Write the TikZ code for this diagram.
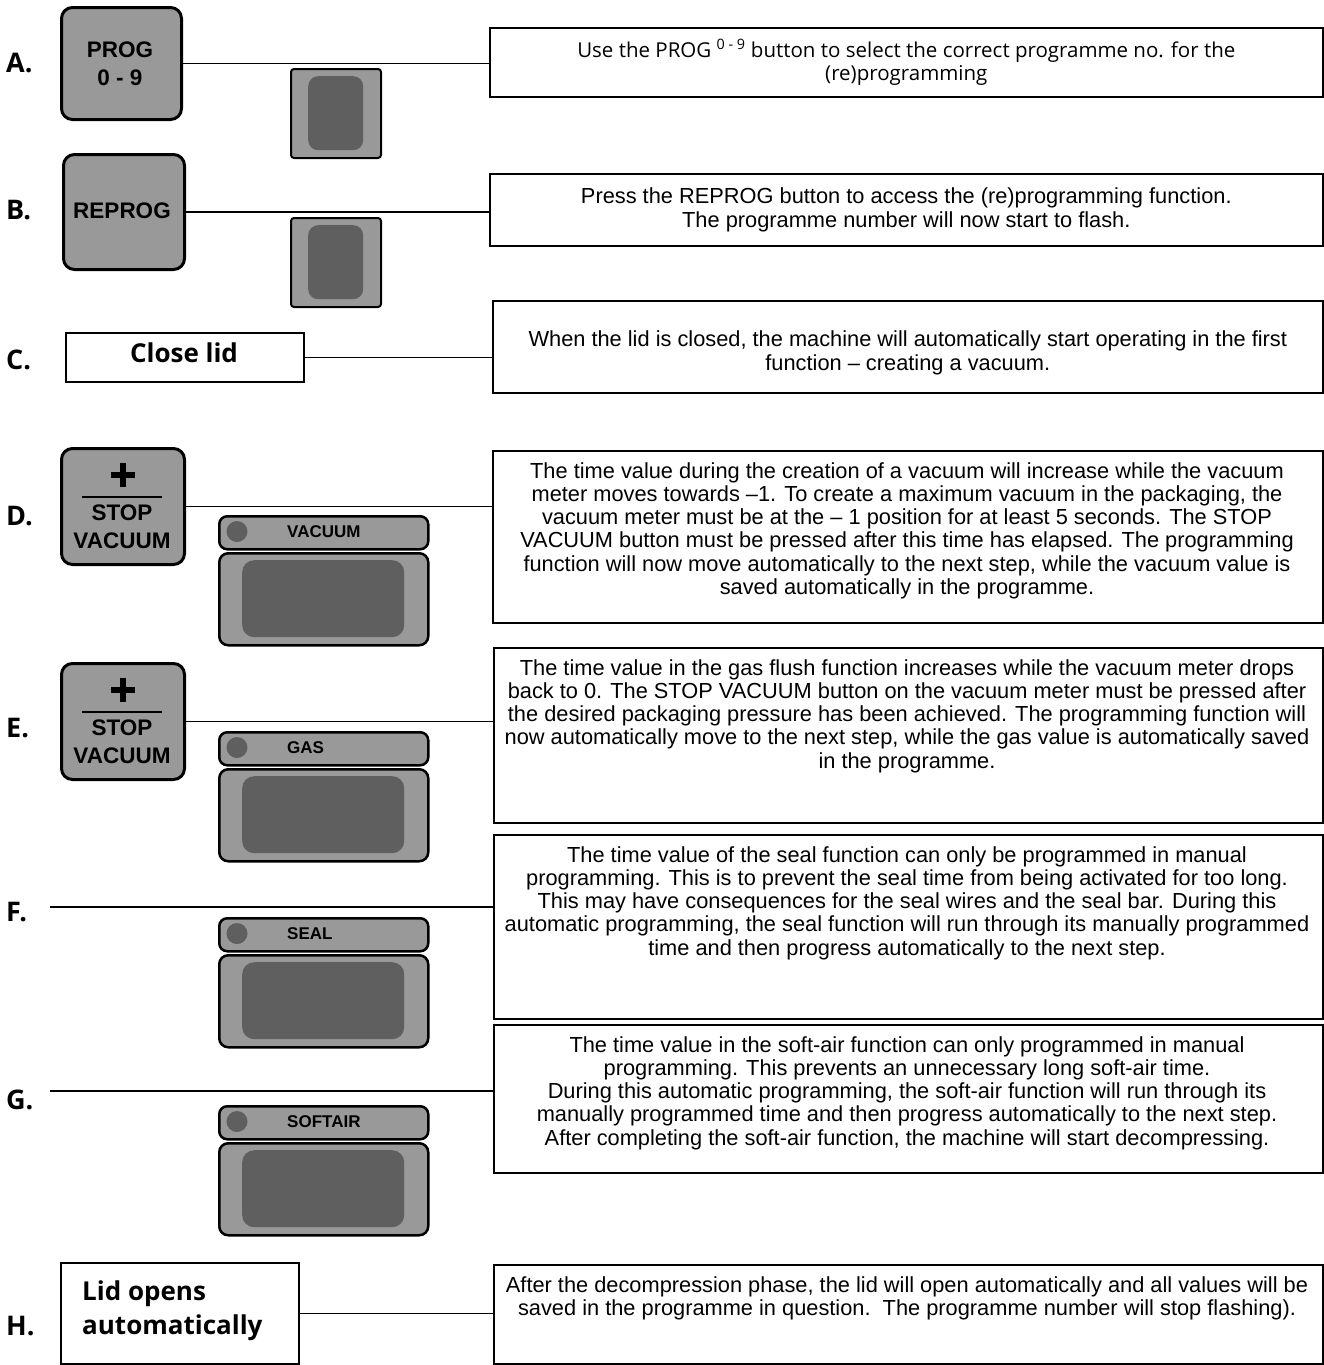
\documentclass[tikz,border=0pt]{standalone}
\usepackage{fontspec}
\setmainfont{Liberation Sans}
\newfontfamily\lblfont{Open Sans}
\definecolor{btngray}{HTML}{999999}
\definecolor{darkgray}{HTML}{5F5F5F}
\begin{document}
\begin{tikzpicture}[x=1pt,y=-1pt,
  btn/.style={draw=black,line width=3pt,fill=btngray,rounded corners=11pt,inner sep=0pt,anchor=north west},
  btntext/.style={font=\bfseries\fontsize{22.5}{28}\selectfont,align=center,inner sep=0pt},
  bar/.style={draw=black,line width=2.5pt,fill=btngray,rounded corners=8pt,inner sep=0pt,anchor=north west,minimum width=209pt,minimum height=33pt},
  disp/.style={draw=black,line width=2.5pt,fill=btngray,rounded corners=9pt,inner sep=0pt,anchor=north west,minimum width=209pt,minimum height=92pt},
  dispin/.style={fill=darkgray,rounded corners=12pt,inner sep=0pt,anchor=north west,minimum width=162pt,minimum height=77pt},
  bartext/.style={font=\bfseries\fontsize{17}{20}\selectfont,anchor=west,inner sep=0pt},
  led/.style={circle,fill=darkgray,minimum size=21pt,inner sep=0pt},
  small/.style={draw=black,line width=2pt,fill=btngray,rounded corners=3pt,inner sep=0pt,anchor=north west,minimum width=90pt,minimum height=89pt},
  smallin/.style={fill=darkgray,rounded corners=10pt,inner sep=0pt,anchor=north west,minimum width=55pt,minimum height=74pt},
  tbox/.style={draw=black,line width=1.6pt,inner sep=0pt,anchor=north west},
  txt/.style={font=\fontsize{21.8}{23.3}\selectfont,align=center,inner sep=0pt},
  lbl/.style={font=\lblfont\bfseries\fontsize{27}{30}\selectfont,anchor=west,inner sep=0pt},
  lidbox/.style={draw=black,line width=1.5pt,inner sep=0pt,anchor=north west},
  lidtext/.style={font=\lblfont\bfseries\fontsize{26}{34}\selectfont,inner sep=0pt},
  conn/.style={draw=black,line width=1.5pt}
]
\useasboundingbox (0,0) rectangle (1324,1365);

% ---------- labels ----------
\node[lbl] (lA) at (6,63) {A.};
\node[lbl] (lB) at (6,210) {B.};
\node[lbl] (lC) at (6,360) {C.};
\node[lbl] (lD) at (6,516) {D.};
\node[lbl] (lE) at (6,728) {E.};
\node[lbl] (lF) at (6,912) {F.};
\node[lbl] (lG) at (6,1100) {G.};
\node[lbl] (lH) at (6,1326) {H.};

% ---------- buttons ----------
\node[btn,minimum width=120pt,minimum height=112pt] (btnA) at (60,6) {};
\node[btntext] (btnAt) at (120,64) {PROG\\0 - 9};
\node[btn,minimum width=121pt,minimum height=115pt] (btnB) at (62,153) {};
\node[btntext] (btnBt) at (122,211) {REPROG};

\node[btn,minimum width=123pt,minimum height=116pt] (btnD) at (60,447) {};
\draw[line width=6pt] (111,475) -- (135,475) (123,463) -- (123,487);
\draw[line width=2pt] (82,497) -- (162,497);
\node[btntext] (btnDt) at (122,527) {STOP\\VACUUM};

\node[btn,minimum width=123pt,minimum height=116pt] (btnE) at (60,662) {};
\draw[line width=6pt] (111,690) -- (135,690) (123,678) -- (123,702);
\draw[line width=2pt] (82,712) -- (162,712);
\node[btntext] (btnEt) at (122,742) {STOP\\VACUUM};

% ---------- small displays ----------
\node[small] (sA) at (290,68) {};
\node[smallin] (sAi) at (308,76) {};
\node[small] (sB) at (290,217) {};
\node[smallin] (sBi) at (308,225) {};

% ---------- indicators ----------
\foreach \n/\t/\lab in {D/515/VACUUM,E/731/GAS,F/917/SEAL,G/1105/SOFTAIR}{
  \node[bar] (bar\n) at (218,\t) {};
  \node[led] (led\n) at (237,\t+16.5) {};
  \node[bartext] (bart\n) at (287,\t+17) {\lab};
  \node[disp] (disp\n) at (218,\t+37) {};
  \node[dispin] (dispi\n) at (242,\t+45) {};
}

% ---------- Close lid / Lid opens ----------
\node[lidbox,minimum width=238pt,minimum height=49pt] (close) at (65,332) {};
\node[lidtext] (closet) at (184,353) {Close lid};
\node[lidbox,minimum width=238pt,minimum height=101pt] (lidopen) at (60,1262) {};
\node[lidtext,align=left,anchor=west] (lidopent) at (82,1311) {Lid opens\\automatically};

% ---------- text boxes ----------
\node[tbox,minimum width=833pt,minimum height=69pt] (boxA) at (489,27) {};
\node[txt,font=\lblfont\fontsize{20.5}{23.3}\selectfont] (tA) at (boxA.center) {Use the PROG \textsuperscript{0 - 9} button to select the correct programme no. for the\\(re)programming};

\node[tbox,minimum width=833pt,minimum height=72pt] (boxB) at (489,173) {};
\node[txt] (tB) at (boxB.center) {Press the REPROG button to access the (re)programming function.\\The programme number will now start to flash.};

\node[tbox,minimum width=830pt,minimum height=92pt] (boxC) at (492,300) {};
\node[txt] (tC) at ([yshift=-6pt]boxC.center) {When the lid is closed, the machine will automatically start operating in the first\\function -- creating a vacuum.};

\node[tbox,minimum width=830pt,minimum height=172pt] (boxD) at (492,450) {};
\node[txt,anchor=north] (tD) at (907,462) {The time value during the creation of a vacuum will increase while the vacuum\\meter moves towards --1. To create a maximum vacuum in the packaging, the\\vacuum meter must be at the -- 1 position for at least 5 seconds. The STOP\\VACUUM button must be pressed after this time has elapsed. The programming\\function will now move automatically to the next step, while the vacuum value is\\saved automatically in the programme.};

\node[tbox,minimum width=829pt,minimum height=175pt] (boxE) at (493,647) {};
\node[txt,anchor=north] (tE) at (907,659) {The time value in the gas flush function increases while the vacuum meter drops\\back to 0. The STOP VACUUM button on the vacuum meter must be pressed after\\the desired packaging pressure has been achieved. The programming function will\\now automatically move to the next step, while the gas value is automatically saved\\in the programme.};

\node[tbox,minimum width=829pt,minimum height=184pt] (boxF) at (493,834) {};
\node[txt,anchor=north] (tF) at (907,846) {The time value of the seal function can only be programmed in manual\\programming. This is to prevent the seal time from being activated for too long.\\This may have consequences for the seal wires and the seal bar. During this\\automatic programming, the seal function will run through its manually programmed\\time and then progress automatically to the next step.};

\node[tbox,minimum width=829pt,minimum height=148pt] (boxG) at (493,1024) {};
\node[txt,anchor=north] (tG) at (907,1036) {The time value in the soft-air function can only programmed in manual\\programming. This prevents an unnecessary long soft-air time.\\During this automatic programming, the soft-air function will run through its\\manually programmed time and then progress automatically to the next step.\\After completing the soft-air function, the machine will start decompressing.};

\node[tbox,minimum width=829pt,minimum height=99pt] (boxH) at (493,1264) {};
\node[txt,anchor=north] (tH) at (907,1276) {After the decompression phase, the lid will open automatically and all values will be\\saved in the programme in question.\ \ The programme number will stop flashing).};

% ---------- connectors ----------
\coordinate (fstart) at (50,907);
\coordinate (gstart) at (50,1091);
\draw[conn] (btnA.east) -- (btnA.east -| boxA.west);
\draw[conn] (btnB.east) -- (btnB.east -| boxB.west);
\draw[conn] (close.east) -- (close.east -| boxC.west);
\draw[conn] (btnD.east) -- (btnD.east -| boxD.west);
\draw[conn] (btnE.east) -- (btnE.east -| boxE.west);
\draw[conn] (fstart) -- (fstart -| boxF.west);
\draw[conn] (gstart) -- (gstart -| boxG.west);
\draw[conn] (lidopen.east) -- (lidopen.east -| boxH.west);
\end{tikzpicture}
\end{document}
